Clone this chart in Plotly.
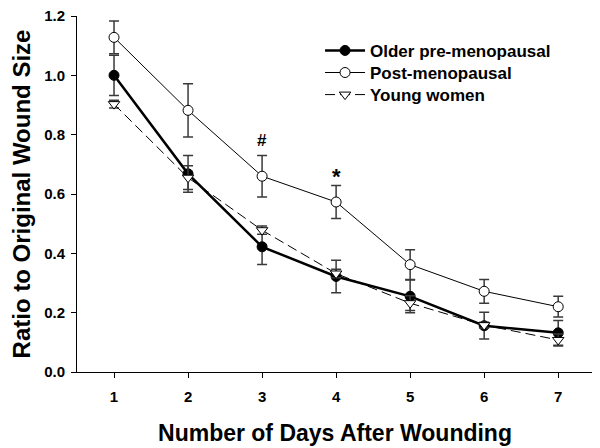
import plotly.graph_objects as go

days = [1, 2, 3, 4, 5, 6, 7]
older_pre = [1.00, 0.668, 0.422, 0.322, 0.255, 0.156, 0.132]
older_pre_err = [0.068, 0.062, 0.06, 0.055, 0.055, 0.045, 0.042]
post_meno = [1.128, 0.882, 0.66, 0.573, 0.362, 0.272, 0.22]
post_meno_err = [0.055, 0.09, 0.07, 0.056, 0.05, 0.04, 0.035]
young = [0.903, 0.655, 0.478, 0.332, 0.232, 0.158, 0.108]
young_err = [0.013, 0.04, 0.014, 0.014, 0.025, 0.01, 0.02]

sig_days = [3, 4]
sig_marks = ["#", "*"]
sig_y = [0.78, 0.66]

font_fam = "Arial, Liberation Sans, sans-serif"
err_col = "#3a3a3a"

fig = go.Figure()
fig.add_trace(go.Scatter(
    x=days, y=older_pre, name="Older pre-menopausal", mode="lines+markers",
    legend="legend",
    line=dict(color="black", width=2.5),
    marker=dict(symbol="circle", size=10, color="black", line=dict(color="black", width=1)),
    error_y=dict(type="data", array=older_pre_err, color=err_col, thickness=1.5, width=5),
))
fig.add_trace(go.Scatter(
    x=days, y=post_meno, name="Post-menopausal", mode="lines+markers",
    legend="legend2",
    line=dict(color="black", width=1),
    marker=dict(symbol="circle", size=10, color="white", line=dict(color="black", width=1)),
    error_y=dict(type="data", array=post_meno_err, color=err_col, thickness=1.5, width=5),
))
fig.add_trace(go.Scatter(
    x=days, y=young, name="Young women", mode="lines+markers",
    legend="legend3",
    line=dict(color="black", width=1, dash="10px,5px"),
    marker=dict(symbol="triangle-down", size=10, color="white", line=dict(color="black", width=1)),
    error_y=dict(type="data", array=young_err, color=err_col, thickness=1.5, width=5),
))

sig_sizes = {"#": 17, "*": 22}
for d, m, yv in zip(sig_days, sig_marks, sig_y):
    fig.add_annotation(x=d, y=yv, text=m, showarrow=False,
                       font=dict(family=font_fam, size=sig_sizes[m], color="black", weight="bold"))

leg_font = dict(family=font_fam, size=17, color="black", weight="bold")
def leg(y):
    return dict(x=0.471, y=y, xanchor="left", yanchor="middle", itemwidth=40,
                bgcolor="rgba(0,0,0,0)", font=leg_font)

fig.update_layout(
    width=600, height=448,
    margin=dict(l=69, r=15, t=8, b=84),
    paper_bgcolor="white", plot_bgcolor="white",
    font=dict(family=font_fam, color="black"),
    showlegend=True,
    legend=leg(0.902), legend2=leg(0.840), legend3=leg(0.778),
    xaxis=dict(range=[0.5, 7.47], tickvals=days, ticktext=[str(d) for d in days],
               automargin=False, ticklabelstandoff=6, ticklabeloverflow="allow",
               showgrid=False, zeroline=False, showline=True, linecolor="black", linewidth=1,
               ticks="outside", ticklen=5, tickcolor="black",
               tickfont=dict(family=font_fam, size=15, weight="bold"),
               title=dict(text="Number of Days After Wounding", standoff=20,
                          font=dict(family=font_fam, size=23, weight="bold"))),
    yaxis=dict(range=[0, 1.2], tickvals=[0, 0.2, 0.4, 0.6, 0.8, 1.0, 1.2],
               tickformat=".1f", automargin=False, ticklabelstandoff=3,
               ticklabeloverflow="allow",
               showgrid=False, zeroline=False, showline=True, linecolor="black", linewidth=1,
               ticks="outside", ticklen=5, tickcolor="black",
               tickfont=dict(family=font_fam, size=15, weight="bold"),
               title=dict(text="Ratio to Original Wound Size", standoff=11,
                          font=dict(family=font_fam, size=24, weight="bold"))),
)

fig.write_html("out.html")
